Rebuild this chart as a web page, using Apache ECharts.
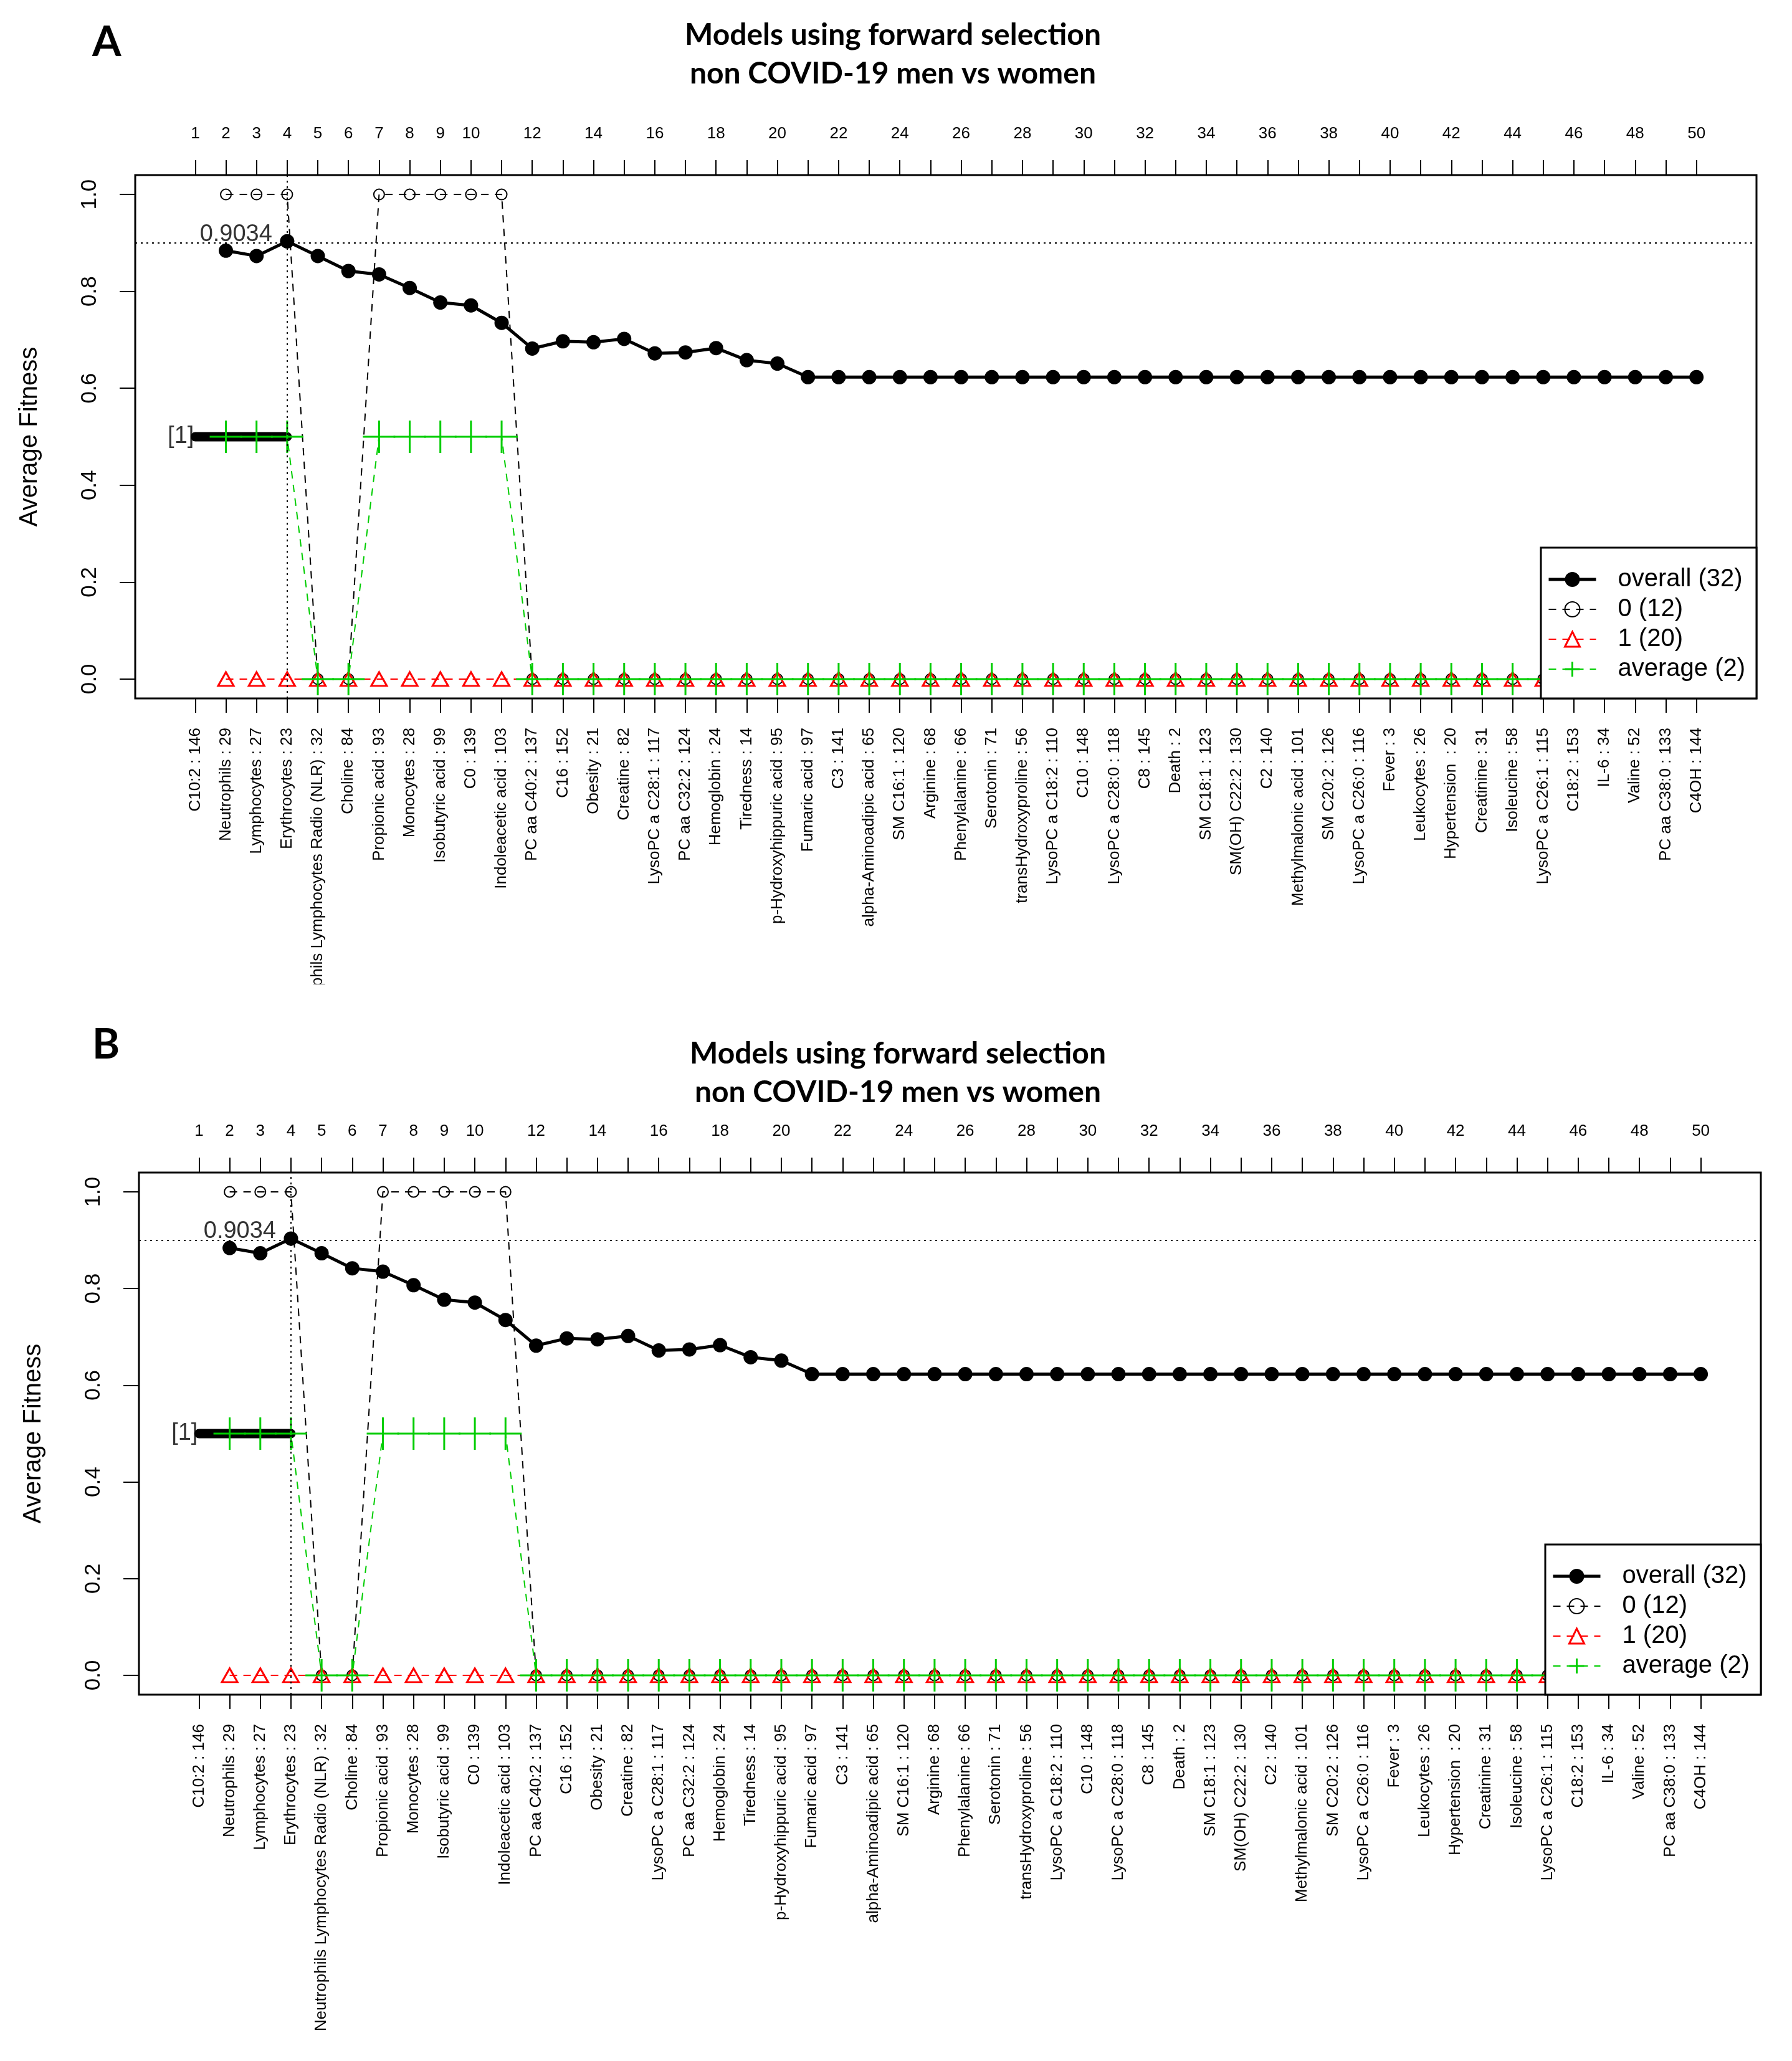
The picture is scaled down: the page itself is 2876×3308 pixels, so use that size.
<!DOCTYPE html>
<html><head><meta charset="utf-8">
<script src="https://cdn.jsdelivr.net/npm/echarts@6/dist/echarts.min.js"></script>
<style>
html,body{margin:0;padding:0;background:#fff;width:2876px;height:3308px;overflow:hidden}
#a{position:absolute;left:0;top:0;width:2876px;height:1580px;overflow:hidden}
#b{position:absolute;left:0;top:1582px;width:2876px;height:1726px;overflow:hidden}
</style></head><body><div id="a"></div><div id="b"></div>
<script>
// ---------------- data ----------------
const steps = [1,2,3,4,5,6,7,8,9,10,11,12,13,14,15,16,17,18,19,20,21,22,23,24,25,26,27,28,29,30,31,32,33,34,35,36,37,38,39,40,41,42,43,44,45,46,47,48,49,50];
const stepLabels = [
  'C10:2 : 146','Neutrophils : 29','Lymphocytes : 27','Erythrocytes : 23',
  'Neutrophils Lymphocytes Radio (NLR) : 32','Choline : 84','Propionic acid : 93','Monocytes : 28',
  'Isobutyric acid : 99','C0 : 139','Indoleacetic acid : 103','PC aa C40:2 : 137','C16 : 152',
  'Obesity : 21','Creatine : 82','LysoPC a C28:1 : 117','PC aa C32:2 : 124','Hemoglobin : 24',
  'Tiredness : 14','p-Hydroxyhippuric acid : 95','Fumaric acid : 97','C3 : 141',
  'alpha-Aminoadipic acid : 65','SM C16:1 : 120','Arginine : 68','Phenylalanine : 66',
  'Serotonin : 71','transHydroxyproline : 56','LysoPC a C18:2 : 110','C10 : 148',
  'LysoPC a C28:0 : 118','C8 : 145','Death : 2','SM C18:1 : 123','SM(OH) C22:2 : 130',
  'C2 : 140','Methylmalonic acid : 101','SM C20:2 : 126','LysoPC a C26:0 : 116','Fever : 3',
  'Leukocytes : 26','Hypertension  : 20','Creatinine : 31','Isoleucine : 58','LysoPC a C26:1 : 115',
  'C18:2 : 153','IL-6 : 34','Valine : 52','PC aa C38:0 : 133','C4OH : 144'
];
const topTickLabels = [1,2,3,4,5,6,7,8,9,10,12,14,16,18,20,22,24,26,28,30,32,34,36,38,40,42,44,46,48,50];
const yTicks = [0, 0.2, 0.4, 0.6, 0.8, 1.0];
const firstStep = 2; // series values start at step 2
const overall = [0.884,0.873,0.9034,0.873,0.842,0.835,0.807,0.777,0.771,0.735,0.682,0.697,0.695,0.702,0.672,0.674,0.683,0.658,0.651,
  0.623,0.623,0.623,0.623,0.623,0.623,0.623,0.623,0.623,0.623,0.623,0.623,0.623,0.623,0.623,
  0.623,0.623,0.623,0.623,0.623,0.623,0.623,0.623,0.623,0.623,0.623,0.623,0.623,0.623,0.623];
const group0 = [1,1,1,0,0,1,1,1,1,1,0,0,0,0,0,0,0,0,0,0,0,0,0,0,0,0,0,0,0,0,0,0,0,0,0,0,0,0,0,0,0,0,0,0,0,0,0,0,0];
const group1 = [0,0,0,0,0,0,0,0,0,0,0,0,0,0,0,0,0,0,0,0,0,0,0,0,0,0,0,0,0,0,0,0,0,0,0,0,0,0,0,0,0,0,0,0,0,0,0,0,0];
const average = [0.5,0.5,0.5,0,0,0.5,0.5,0.5,0.5,0.5,0,0,0,0,0,0,0,0,0,0,0,0,0,0,0,0,0,0,0,0,0,0,0,0,0,0,0,0,0,0,0,0,0,0,0,0,0,0,0];
const seriesNames = ['overall (32)', '0 (12)', '1 (20)', 'average (2)'];
const bestStep = 4, bestValue = 0.9034, bestText = '0.9034';
const markerBarSteps = [1, 4], markerBarLevel = 0.5, markerText = '[1]';
const mainTitle = 'Models using forward selection\nnon COVID-19 men vs women';

// ---------------- helpers ----------------
const FONT = '"Liberation Sans", Arial, sans-serif';
const TFONT = 'Lato, "Open Sans", sans-serif';
const toPairs = arr => arr.map((v, i) => [steps[i + firstStep - 1], v]);
const PLUS = 'path://M10,0 L10,20 M0,10 L20,10';
const GREEN = '#00CD00', RED = '#FF0000';
const xMin = steps[0] - 0.04 * (steps[steps.length - 1] - steps[0]);
const xMax = steps[steps.length - 1] + 0.04 * (steps[steps.length - 1] - steps[0]);

function makeOption(L) {
  const W = 2876;
  const gridRight = W - L.gridR;
  return {
    animation: false,
    backgroundColor: '#fff',
    textStyle: { fontFamily: FONT, color: '#000' },
    title: [
      { text: L.letter, left: L.letterLeft, top: L.letterTop, padding: 0,
        textStyle: { fontFamily: TFONT, fontWeight: 'bold', fontSize: 67, lineHeight: 67, color: '#000' } },
      { text: mainTitle, left: L.titleX, top: L.titleTop, textAlign: 'center', padding: 0,
        textStyle: { fontFamily: TFONT, fontWeight: 'bold', fontSize: 48, lineHeight: 62, color: '#000' } }
    ],
    grid: { left: L.gridL, right: L.gridR, top: L.gridT, height: L.gridH, show: true,
      borderColor: '#000', borderWidth: 3, backgroundColor: 'transparent', containLabel: false, outerBoundsMode: 'none' },
    legend: {
      z: 20, zlevel: 0,
      orient: 'vertical', left: L.legL + 10, top: L.legT + 31, padding: 0,
      itemWidth: 76, itemHeight: 30, itemGap: 8, selectedMode: false,
      textStyle: { fontFamily: FONT, fontSize: 40, lineHeight: 40, color: '#000', padding: [0, 0, 0, 30] },
      data: [
        { name: seriesNames[0], lineStyle: { width: 5 }, itemStyle: { borderWidth: 0 } },
        { name: seriesNames[1], lineStyle: { width: 2 }, itemStyle: { borderWidth: 2 } },
        { name: seriesNames[2], lineStyle: { width: 2 }, itemStyle: { borderWidth: 3 } },
        { name: seriesNames[3], lineStyle: { width: 2 }, itemStyle: { borderWidth: 3 } }
      ]
    },
    graphic: {
      z: 10, zlevel: 0,
      elements: [
        { type: 'rect', z: 10, silent: true,
          shape: { x: L.legL, y: L.legT, width: gridRight - L.legL, height: L.gridT + L.gridH - L.legT },
          style: { fill: '#fff', stroke: '#000', lineWidth: 3 } }
      ]
    },
    xAxis: [
      { type: 'value', position: 'bottom', min: xMin, max: xMax,
        axisLine: { show: false, onZero: false }, splitLine: { show: false },
        axisTick: { show: true, customValues: steps, length: 23, lineStyle: { color: '#000', width: 2 } },
        axisLabel: { show: true, customValues: steps, rotate: 90, margin: 47, fontSize: 26, color: '#000',
          fontFamily: FONT, formatter: v => stepLabels[steps.indexOf(Math.round(v))] } },
      { type: 'value', position: 'top', min: xMin, max: xMax,
        axisLine: { show: false, onZero: false }, splitLine: { show: false },
        axisTick: { show: true, customValues: steps, length: 24, lineStyle: { color: '#000', width: 2 } },
        axisLabel: { show: true, customValues: topTickLabels, margin: 53, fontSize: 26, color: '#000',
          fontFamily: FONT, formatter: v => String(Math.round(v)) } }
    ],
    yAxis: [
      { type: 'value', min: -0.04, max: 1.04,
        axisLine: { show: false, onZero: false }, splitLine: { show: false },
        axisTick: { show: true, customValues: yTicks, length: 25, lineStyle: { color: '#000', width: 2 } },
        axisLabel: { show: true, customValues: yTicks, rotate: 90, margin: 55, fontSize: 35, color: '#000',
          fontFamily: FONT, formatter: v => v.toFixed(1) },
        name: 'Average Fitness', nameLocation: 'middle', nameRotate: 90, nameGap: 149,
        nameTextStyle: { fontFamily: FONT, fontSize: 40, color: '#000' } }
    ],
    series: [
      { type: 'line', name: '_bar', data: markerBarSteps.map(s => [s, markerBarLevel]), symbol: 'none', silent: true,
        lineStyle: { color: '#000', width: 15, cap: 'round' }, z: 1 },
      { type: 'scatter', name: '_barText', data: [[markerBarSteps[0], markerBarLevel]], symbolSize: 0, silent: true,
        label: { show: true, formatter: markerText, position: 'left', distance: 2, fontSize: 38, color: '#000', fontFamily: FONT } },
      { type: 'scatter', name: '_bestText', data: [[bestStep, bestValue]], symbolSize: 0, silent: true,
        label: { show: true, formatter: bestText, position: [-24, 8], align: 'right', verticalAlign: 'bottom',
          fontSize: 38, lineHeight: 38, color: '#000', fontFamily: FONT } },
      { type: 'line', name: seriesNames[0], data: toPairs(overall), symbol: 'circle', symbolSize: 23, silent: true,
        lineStyle: { color: '#000', width: 5 }, itemStyle: { color: '#000' },
        markLine: { silent: true, symbol: ['none', 'none'], label: { show: false },
          lineStyle: { color: '#000', width: 2, type: [3, 6] },
          data: [{ yAxis: bestValue }, { xAxis: bestStep }] } },
      { type: 'line', name: seriesNames[1], data: toPairs(group0), symbol: 'circle', symbolSize: 17, silent: true,
        lineStyle: { color: '#000', width: 2, type: [12, 10] },
        itemStyle: { color: 'rgba(0,0,0,0)', borderColor: '#000', borderWidth: 2 } },
      { type: 'line', name: seriesNames[2], data: toPairs(group1), symbol: 'triangle', symbolSize: [25, 22], silent: true,
        lineStyle: { color: RED, width: 2, type: [12, 10] },
        itemStyle: { color: 'rgba(0,0,0,0)', borderColor: RED, borderWidth: 3 } },
      { type: 'line', name: seriesNames[3], data: toPairs(average), symbol: PLUS, symbolSize: 52, silent: true,
        lineStyle: { color: GREEN, width: 2, type: [12, 10] },
        itemStyle: { color: 'rgba(0,0,0,0)', borderColor: GREEN, borderWidth: 3 } }
    ]
  };
}

const layoutA = { letter: 'A', letterLeft: 148, letterTop: 35, titleX: 1433, titleTop: 26,
  gridL: 217, gridR: 57, gridT: 281, gridH: 840, legL: 2473, legT: 879 };
const layoutB = { letter: 'B', letterLeft: 148, letterTop: 62, titleX: 1441, titleTop: 79,
  gridL: 223, gridR: 50, gridT: 300, gridH: 838, legL: 2480, legT: 897 };

echarts.init(document.getElementById('a')).setOption(makeOption(layoutA));
echarts.init(document.getElementById('b')).setOption(makeOption(layoutB));
</script></body></html>
